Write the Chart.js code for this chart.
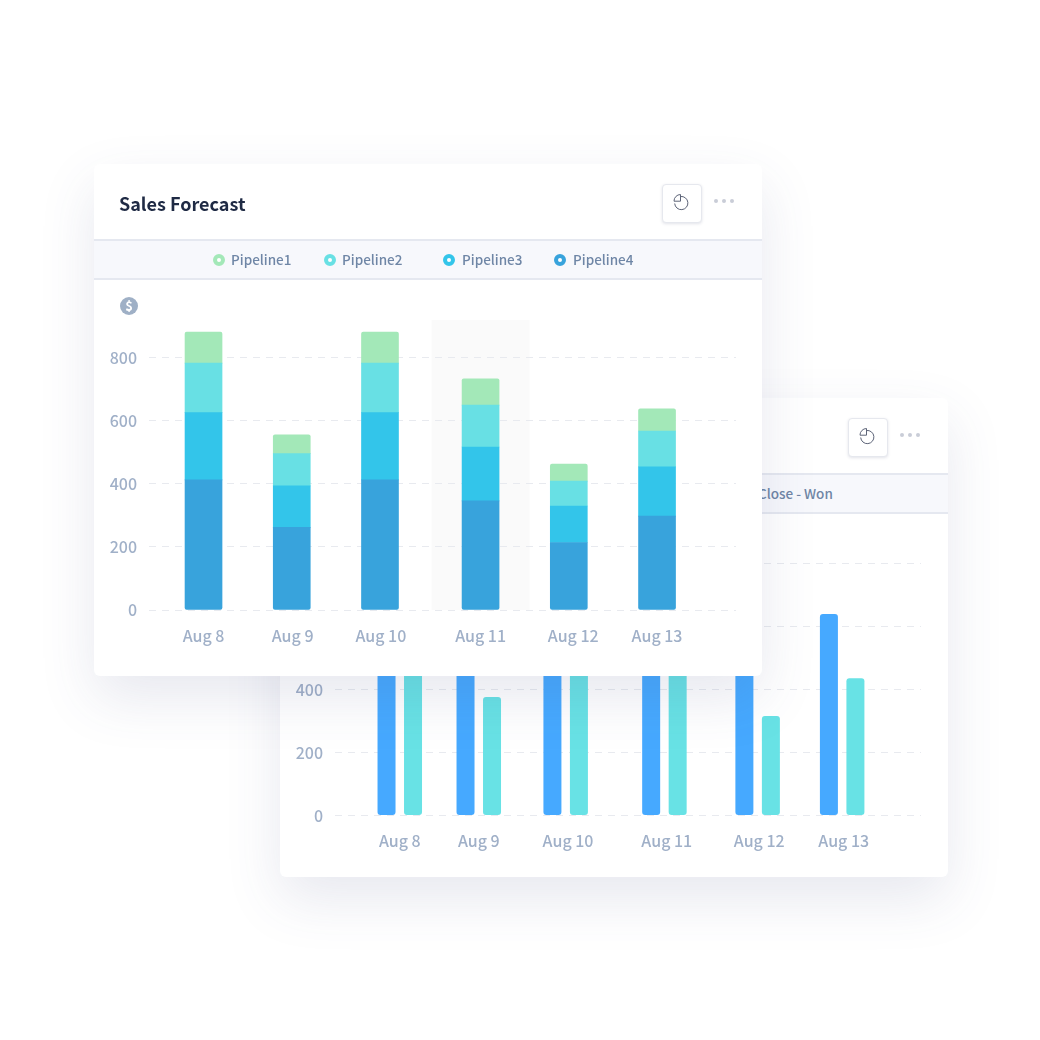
<!DOCTYPE html>
<html>
<head>
<meta charset="utf-8">
<script src="https://cdn.jsdelivr.net/npm/chart.js@4"></script>
<style>
  html, body { margin: 0; padding: 0; background: #fff; }
  body { position: relative; width: 1040px; height: 1040px; overflow: hidden; font-family: "Noto Sans CJK SC", sans-serif; }
  .card { position: absolute; width: 668px; background: #fff; border-radius: 6px; box-shadow: 0 22px 55px rgba(70, 80, 135, .13); }
  #back { left: 280px; top: 398px; height: 479px; }
  #front { left: 94px; top: 164px; height: 512px; }
  .card canvas { position: absolute; left: 0; }
  .band { position: absolute; left: 0; right: 0; height: 37px; background: #f7f8fc; border-top: 2px solid #e5e8f0; border-bottom: 2px solid #e5e8f0; }
  #front .band { top: 75px; }
  #back .band { top: 75px; }
  .title { position: absolute; left: 25px; top: 25px; font-size: 18px; font-weight: 600; color: #1f2a44; line-height: 28px; }
  .btn { position: absolute; width: 38px; height: 37px; border: 1px solid #e6e8ee; border-radius: 4px; background: #fff; box-shadow: 0 1px 3px rgba(60, 70, 110, .15); }
  .btn svg { position: absolute; left: 8px; top: 7px; }
  .dots { position: absolute; width: 21px; height: 4px; }
  .dots i { position: absolute; top: 0; width: 4px; height: 4px; border-radius: 50%; background: #c9cdd7; }
  .dots i:nth-child(1) { left: 0; }
  .dots i:nth-child(2) { left: 8px; }
  .dots i:nth-child(3) { left: 16px; }
  .leg { position: absolute; top: 0; line-height: 37px; font-size: 13.5px; font-weight: 500; color: #6f86a6; white-space: nowrap; }
  .ring { position: absolute; top: 12.5px; width: 4px; height: 4px; border-radius: 50%; border: 4px solid; background: #fff; }
  .dollar { position: absolute; left: 26px; top: 133px; width: 18px; height: 18px; border-radius: 50%; background: #9fb0c6; color: #fff; font-size: 13px; font-weight: 700; line-height: 18px; text-align: center; }
</style>
</head>
<body>
<div class="card" id="back">
  <div class="band"><span class="leg" style="left:478px">Close - Won</span></div>
  <canvas id="graficoBack" width="668" height="363" style="top:116px;width:668px;height:363px"></canvas>
  <div class="btn" style="left:568px;top:20px"><svg width="20" height="20" viewBox="0 0 20 20" fill="none" stroke="#5d6478" stroke-width="1"><path d="M9.5 4.5A6.6 6.6 0 1 1 3.7 11.5"/><path d="M9.5 2.5A6.6 6.6 0 0 0 3 9.2h6.5z"/></svg></div>
  <div class="dots" style="left:620px;top:35px"><i></i><i></i><i></i></div>
</div>
<div class="card" id="front">
  <div class="title">Sales Forecast</div>
  <div class="btn" style="left:568px;top:20px"><svg width="20" height="20" viewBox="0 0 20 20" fill="none" stroke="#5d6478" stroke-width="1"><path d="M9.5 4.5A6.6 6.6 0 1 1 3.7 11.5"/><path d="M9.5 2.5A6.6 6.6 0 0 0 3 9.2h6.5z"/></svg></div>
  <div class="dots" style="left:620px;top:35px"><i></i><i></i><i></i></div>
  <div class="band" id="leyenda"></div>
  <div class="dollar">$</div>
  <canvas id="graficoFront" width="668" height="396" style="top:116px;width:668px;height:396px"></canvas>
</div>

<script>
const dias = ["Aug 8", "Aug 9", "Aug 10", "Aug 11", "Aug 12", "Aug 13"];
const yTicks = [0, 200, 400, 600, 800];

// tarjeta de adelante
const pipeline1 = [99, 60, 99, 83, 54, 70];
const pipeline2 = [157, 102, 157, 133, 79, 114];
const pipeline3 = [213, 132, 213, 171, 116, 156];
const pipeline4 = [413, 262, 413, 346, 214, 298];

// tarjeta de atras (las puntas tapadas son estimadas)
const serieAzul = [620, 580, 620, 640, 600, 640];
const serieVerde = [500, 376, 500, 520, 316, 436];

// separacion desigual de los dias en cada grafico
const slotsFront = [0, 1, 2, 3.14, 4.14, 5.14];
const slotsBack = [0, 1, 2.1, 3.35, 4.53, 5.6];
// las etiquetas no caen justo bajo las barras
const etiquetasFront = [0, 1.01, 2.01, 3.14, 4.19, 5.14];
const etiquetasBack = [0, 1, 2.13, 3.38, 4.55, 5.62];

const tickFont = { family: "'Noto Sans CJK SC', sans-serif", size: 16, weight: "500" };
const tickColor = "#a0b0c8";

// leyenda
const leyenda = [
  { nombre: "Pipeline1", color: "#a3e8b8", ring: 119, text: 137 },
  { nombre: "Pipeline2", color: "#68e0e4", ring: 230, text: 248 },
  { nombre: "Pipeline3", color: "#33c5ea", ring: 349, text: 368 },
  { nombre: "Pipeline4", color: "#38a3dc", ring: 460, text: 479 }
];
const contLeyenda = document.getElementById("leyenda");
leyenda.forEach(l => {
  const ring = document.createElement("span");
  ring.className = "ring";
  ring.style.left = l.ring + "px";
  ring.style.borderColor = l.color;
  contLeyenda.appendChild(ring);
  const txt = document.createElement("span");
  txt.className = "leg";
  txt.style.left = l.text + "px";
  txt.innerText = l.nombre;
  contLeyenda.appendChild(txt);
});

// columna gris detras de Aug 11
const resaltado = {
  id: "resaltado",
  beforeDraw(chart) {
    const { ctx, chartArea, scales } = chart;
    const cx = scales.x.getPixelForValue(slotsFront[3]);
    ctx.save();
    ctx.fillStyle = "#fafafa";
    ctx.fillRect(cx - 49, chartArea.top, 98, chartArea.bottom - chartArea.top);
    ctx.restore();
  }
};

function ejes(etiquetas, xMin, xMax, yMax, alturaX, stacked) {
  return {
    x: {
      type: "linear",
      offset: false,
      stacked: stacked,
      min: xMin,
      max: xMax,
      afterBuildTicks: s => { s.ticks = etiquetas.map(v => ({ value: v })); },
      afterFit: s => { s.height = alturaX; },
      grid: { display: false },
      border: { display: false },
      ticks: {
        autoSkip: false,
        maxRotation: 0,
        padding: 8,
        color: tickColor,
        font: tickFont,
        callback: (v, i) => dias[i]
      }
    },
    y: {
      stacked: stacked,
      min: 0,
      max: yMax,
      afterBuildTicks: s => { s.ticks = yTicks.map(v => ({ value: v })); },
      afterFit: s => { s.width = 55; },
      grid: { color: "#e8eaef", lineWidth: 1, drawTicks: false },
      border: { display: false, dash: [7, 6] },
      ticks: { padding: 12, color: tickColor, font: tickFont }
    }
  };
}

function puntos(slots, valores) {
  return valores.map((v, i) => ({ x: slots[i], y: v }));
}

new Chart(document.getElementById("graficoFront").getContext("2d"), {
  type: "bar",
  plugins: [resaltado],
  data: {
    datasets: [
      { label: "Pipeline4", data: puntos(slotsFront, pipeline4), backgroundColor: "#38a3dc", borderRadius: { bottomLeft: 2, bottomRight: 2 }, borderSkipped: false },
      { label: "Pipeline3", data: puntos(slotsFront, pipeline3), backgroundColor: "#33c5ea" },
      { label: "Pipeline2", data: puntos(slotsFront, pipeline2), backgroundColor: "#68e0e4" },
      { label: "Pipeline1", data: puntos(slotsFront, pipeline1), backgroundColor: "#a3e8b8", borderRadius: { topLeft: 2, topRight: 2 }, borderSkipped: false }
    ]
  },
  options: {
    responsive: false,
    animation: false,
    devicePixelRatio: 1,
    barThickness: 37,
    layout: { padding: { top: 40, right: 26 } },
    plugins: { legend: { display: false }, tooltip: { enabled: false } },
    scales: ejes(etiquetasFront, -0.618, 6.035, 920, 66, true)
  }
});

new Chart(document.getElementById("graficoBack").getContext("2d"), {
  type: "bar",
  data: {
    datasets: [
      { label: "Azul", data: puntos(slotsBack, serieAzul), backgroundColor: "#46a9ff", borderRadius: 3, borderSkipped: false },
      { label: "Verde", data: puntos(slotsBack, serieVerde), backgroundColor: "#68e2e5", borderRadius: 3, borderSkipped: false }
    ]
  },
  options: {
    responsive: false,
    animation: false,
    devicePixelRatio: 1,
    categoryPercentage: 53 / 79,
    barPercentage: 18 / 26.5,
    layout: { padding: { top: 49.5, right: 27 } },
    plugins: { legend: { display: false }, tooltip: { enabled: false } },
    scales: ejes(etiquetasBack, -0.82, 6.598, 800, 61.5, false)
  }
});
</script>
</body>
</html>
